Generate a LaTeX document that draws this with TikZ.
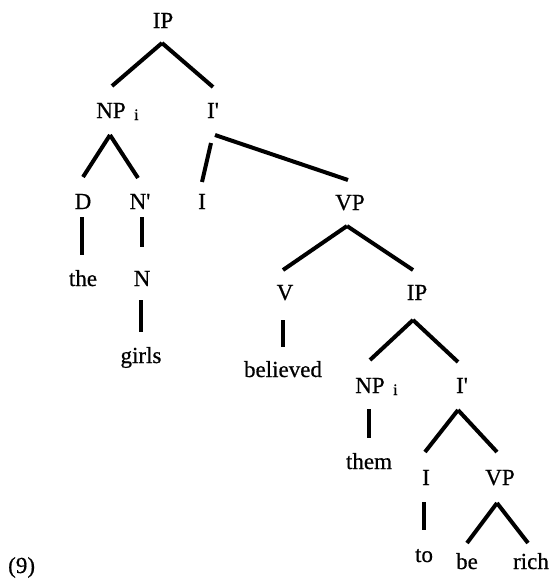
\documentclass[tikz,border=0pt]{standalone}
\usepackage{fontspec}
\setmainfont[FakeBold=0.6,Ligatures=TeXOff]{Liberation Serif}
\usetikzlibrary{calc}
\newcommand{\pr}{\char"0027\relax}
\begin{document}
\begin{tikzpicture}[x=1pt,y=-1pt,
  lab/.style={anchor=base,inner sep=0pt,font=\fontsize{23}{26}\selectfont},
  idx/.style={anchor=base west,inner sep=0pt,font=\fontsize{16}{18}\selectfont},
  br/.style={line width=4pt}]
\useasboundingbox (0,0) rectangle (554,582);
% nodes
\node[lab] (ip)  at (163,28) {IP};
\node[lab] (np1) at (111,118) {NP};
\node[idx] (i1) at (134,120) {i};
\node[lab] (ib1) at (213,118) {I\pr};
\node[lab] (d)   at (83,209) {D};
\node[lab] (nb)  at (140,209) {N\pr};
\node[lab] (i0)  at (202,209) {I};
\node[lab] (vp1) at (350,210) {VP};
\node[lab] (the) at (83,286) {the};
\node[lab] (n)   at (142,286) {N};
\node[lab] (girls) at (141,363) {girls};
\node[lab] (v)   at (285,300) {V};
\node[lab] (ip2) at (417,300) {IP};
\node[lab] (bel) at (283,377) {believed};
\node[lab] (np2) at (370,393) {NP};
\node[idx] (i2) at (393,395) {i};
\node[lab] (ib2) at (462,393) {I\pr};
\node[lab] (them) at (369,469) {them};
\node[lab] (i3)  at (426,485) {I};
\node[lab] (vp2) at (500,485) {VP};
\node[lab] (to)  at (424,562) {to};
\node[lab] (be)  at (467,569) {be};
\node[lab] (rich) at (531,569) {rich};
\node[lab,anchor=base west] (ex) at (8,573) {(9)};
% branches
\draw[br] ($(ip.base)+(-1,15)$) -- ($(np1.base)+(1,-32)$);
\draw[br] ($(ip.base)+(-1,15)$) -- ($(ib1.base)+(0,-31)$);
\draw[br] ($(np1.base)+(-1,17)$) -- ($(d.base)+(0,-32)$);
\draw[br] ($(np1.base)+(-1,17)$) -- ($(nb.base)+(-2,-31)$);
\draw[br] ($(ib1.base)+(-2,25)$) -- ($(i0.base)+(0,-27)$);
\draw[br] ($(ib1.base)+(2,17)$) -- ($(vp1.base)+(-2,-30)$);
\draw[br] ($(d.base)+(-1,8)$) -- ($(the.base)+(-1,-31)$);
\draw[br] ($(nb.base)+(2,8)$) -- ($(n.base)+(0,-39)$);
\draw[br] ($(n.base)+(-1,14)$) -- ($(girls.base)+(0,-31)$);
\draw[br] ($(vp1.base)+(-3,16)$) -- ($(v.base)+(-2,-30)$);
\draw[br] ($(vp1.base)+(-3,16)$) -- ($(ip2.base)+(-4,-30)$);
\draw[br] ($(v.base)+(-2,20)$) -- ($(bel.base)+(0,-30)$);
\draw[br] ($(ip2.base)+(-4,20)$) -- ($(np2.base)+(0,-33)$);
\draw[br] ($(ip2.base)+(-4,20)$) -- ($(ib2.base)+(-4,-31)$);
\draw[br] ($(np2.base)+(-1,16)$) -- ($(them.base)+(0,-31)$);
\draw[br] ($(ib2.base)+(-4,17)$) -- ($(i3.base)+(-1,-33)$);
\draw[br] ($(ib2.base)+(-4,17)$) -- ($(vp2.base)+(-3,-33)$);
\draw[br] ($(i3.base)+(-2,17)$) -- ($(to.base)+(0,-32)$);
\draw[br] ($(vp2.base)+(-3,18)$) -- ($(be.base)+(0,-26)$);
\draw[br] ($(vp2.base)+(-3,18)$) -- ($(rich.base)+(-3,-26)$);
\end{tikzpicture}
\end{document}
